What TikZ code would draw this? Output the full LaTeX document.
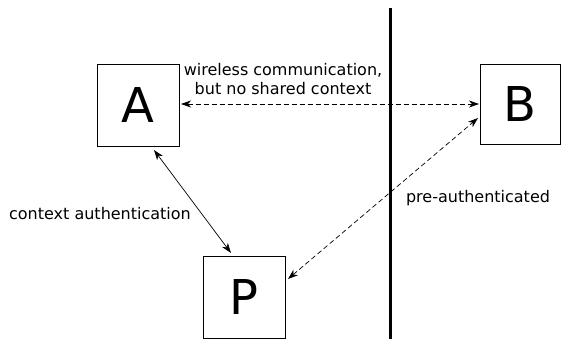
\documentclass[tikz,border=0pt]{standalone}
\usepackage{fontspec}
\setmainfont{DejaVu Sans}
\usetikzlibrary{arrows.meta}
\begin{document}
\begin{tikzpicture}[x=1pt,y=-1pt,
  box/.style={draw,line width=0.8pt,minimum size=82pt,inner sep=0pt,font=\fontsize{48}{48}\selectfont},
  lbl/.style={font=\fontsize{16}{19}\selectfont,align=center,inner sep=0pt},
  both/.style={{Stealth[length=10pt,width=7pt,inset=3pt]}-{Stealth[length=10pt,width=7pt,inset=3pt]}},
  dsh/.style={dash pattern=on 5pt off 3pt}]
\useasboundingbox (0,0) rectangle (561,339);
\node[box] (A) at (138,105) {A};
\node[box,minimum size=80pt] (B) at (520,104) {B};
\node[box] (P) at (244,297) {P};
\coordinate (top) at (390,8);
\coordinate (bot) at (390,339);
\draw[line width=3pt] (top) -- (bot);
\coordinate (a1) at (181,104);
\coordinate (b1) at (479,104);
\draw[both,dsh,line width=0.7pt] (a1) -- (b1);
\coordinate (a2) at (154,150);
\coordinate (p2) at (231,253);
\draw[both,line width=0.7pt] (a2) -- (p2);
\coordinate (p3) at (288,279);
\coordinate (b3) at (478,118);
\draw[both,dsh,line width=0.7pt] (p3) -- (b3);
\node[lbl] (t1) at (283,79) {wireless communication,\\but no shared context};
\node[lbl] (t2) at (100,214) {context authentication};
\node[lbl] (t3) at (478,198) {pre-authenticated};
\end{tikzpicture}
\end{document}
